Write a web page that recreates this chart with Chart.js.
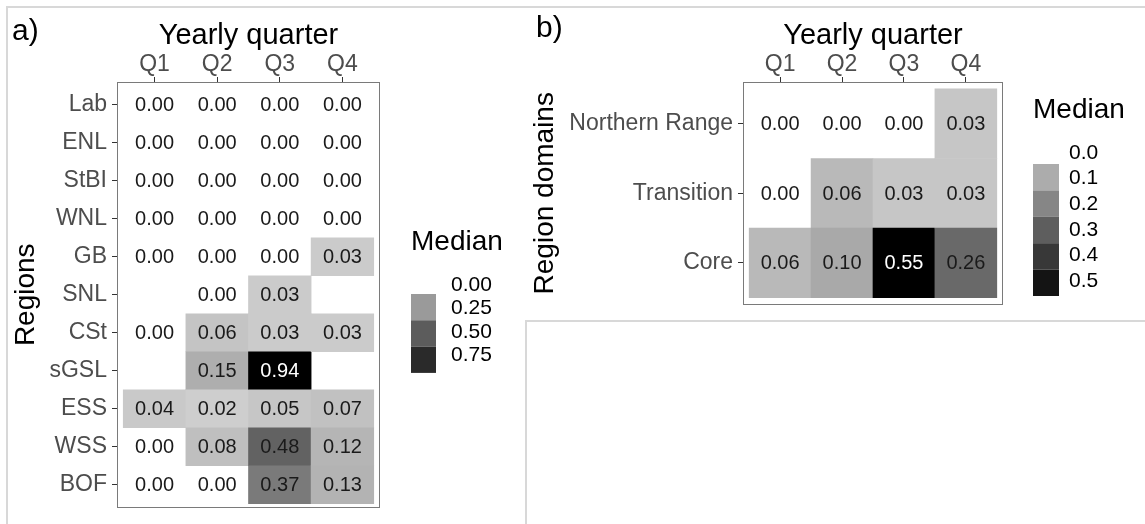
<!DOCTYPE html>
<html>
<head>
<meta charset="utf-8">
<script src="https://cdn.jsdelivr.net/npm/chart.js@4/dist/chart.umd.min.js"></script>
<style>
  html, body { margin: 0; padding: 0; background: #fff; }
  body { width: 1145px; height: 524px; position: relative; overflow: hidden; }
  canvas { position: absolute; top: 0; }
  #chartA { left: 0; }
  #chartB { left: 527px; }
  .rule { position: absolute; background: #d8d8d8; z-index: 2; }
</style>
</head>
<body>
<canvas id="chartA" width="525" height="524"></canvas>
<canvas id="chartB" width="618" height="321"></canvas>
<div class="rule" style="left:6px;top:6px;width:1139px;height:2px"></div>
<div class="rule" style="left:6px;top:6px;width:2px;height:518px"></div>
<div class="rule" style="left:525px;top:320px;width:2px;height:204px"></div>
<div class="rule" style="left:525px;top:320px;width:620px;height:2px"></div>
<script>
// ---- data ----
const quarters = ['Q1', 'Q2', 'Q3', 'Q4'];

// a) median per region and yearly quarter (null = no value)
const regions = ['Lab', 'ENL', 'StBI', 'WNL', 'GB', 'SNL', 'CSt', 'sGSL', 'ESS', 'WSS', 'BOF'];
const regionQ1 = [0.00, 0.00, 0.00, 0.00, 0.00, null, 0.00, null, 0.04, 0.00, 0.00];
const regionQ2 = [0.00, 0.00, 0.00, 0.00, 0.00, 0.00, 0.06, 0.15, 0.02, 0.08, 0.00];
const regionQ3 = [0.00, 0.00, 0.00, 0.00, 0.00, 0.03, 0.03, 0.94, 0.05, 0.48, 0.37];
const regionQ4 = [0.00, 0.00, 0.00, 0.00, 0.03, null, 0.03, null, 0.07, 0.12, 0.13];

// b) median per region domain and yearly quarter
const domains = ['Northern Range', 'Transition', 'Core'];
const domainQ1 = [0.00, 0.00, 0.06];
const domainQ2 = [0.00, 0.06, 0.10];
const domainQ3 = [0.00, 0.03, 0.55];
const domainQ4 = [0.03, 0.03, 0.26];

// colour key labels
const legendLabelsA = ['0.00', '0.25', '0.50', '0.75'];
const legendLabelsB = ['0.0', '0.1', '0.2', '0.3', '0.4', '0.5'];

// ---- styling ----
const FONT = "'Liberation Sans', Arial, Helvetica, sans-serif";
const legendFillA = ['#9a9a9a', '#5c5c5c', '#2a2a2a'];
const legendFillB = ['#acacac', '#868686', '#5e5e5e', '#383838', '#141414'];

// grey ramp interpolated in CIE L*: light grey at 0, black at the panel maximum
function lightnessToGrey(L) {
  const y = L > 8 ? Math.pow((L + 16) / 116, 3) : L / 903.3;
  const c = y <= 0.0031308 ? 12.92 * y : 1.055 * Math.pow(y, 1 / 2.4) - 0.055;
  return Math.round(255 * Math.min(1, Math.max(0, c)));
}
function tileGrey(v, vmax) {
  return lightnessToGrey(84.5 * (1 - v / vmax));
}
function tileFill(v, vmax) {
  if (v === 0) return 'rgba(255,255,255,0)';
  const g = tileGrey(v, vmax);
  return `rgb(${g},${g},${g})`;
}

// one floating bar per filled cell: x = quarter, y spans the row
function buildCells(rowNames, columns) {
  const cells = [];
  columns.forEach((col, qi) => {
    col.forEach((v, ri) => {
      if (v === null) return;
      cells.push({ x: qi + 1, y: [ri + 0.5, ri + 1.5], v });
    });
  });
  return cells;
}

const cellLabels = {
  id: 'cellLabels',
  afterDatasetsDraw(chart, args, opts) {
    const ctx = chart.ctx;
    ctx.save();
    ctx.font = `${opts.size}px ${FONT}`;
    ctx.textAlign = 'center';
    ctx.textBaseline = 'middle';
    chart.data.datasets.forEach((ds, di) => {
      chart.getDatasetMeta(di).data.forEach((bar, i) => {
        const cell = ds.data[i];
        const c = bar.getCenterPoint();
        ctx.fillStyle = (cell.v > 0 && tileGrey(cell.v, opts.vmax) < 50) ? '#ffffff' : '#1a1a1a';
        ctx.fillText(cell.v.toFixed(2), c.x, c.y + 1);
      });
    });
    ctx.restore();
  }
};

const panelFrame = {
  id: 'panelFrame',
  afterDatasetsDraw(chart) {
    const { ctx, chartArea: a } = chart;
    ctx.save();
    ctx.strokeStyle = '#7a7a7a';
    ctx.lineWidth = 1;
    ctx.strokeRect(Math.round(a.left) + 0.5, Math.round(a.top) + 0.5,
      Math.round(a.right - a.left) - 1, Math.round(a.bottom - a.top) - 1);
    ctx.restore();
  }
};

const stepKey = {
  id: 'stepKey',
  afterDraw(chart, args, o) {
    const ctx = chart.ctx;
    ctx.save();
    ctx.fillStyle = '#000';
    ctx.textAlign = 'left';
    ctx.textBaseline = 'middle';
    // panel tag
    ctx.font = `30px ${FONT}`;
    ctx.fillText(o.tag, o.tagX, o.tagY);
    // key title
    ctx.font = `28px ${FONT}`;
    ctx.fillText('Median', o.titleX, o.titleY);
    // key blocks
    o.fills.forEach((f, i) => {
      ctx.fillStyle = f;
      ctx.fillRect(o.barX, o.barY + i * o.blockH, o.barW, o.blockH);
    });
    // key labels
    ctx.fillStyle = '#000';
    ctx.font = `21px ${FONT}`;
    o.labels.forEach((t, i) => {
      ctx.fillText(t, o.labelX, o.labelY + i * o.labelStep);
    });
    ctx.restore();
  }
};

function makeChart(canvasId, rowNames, columns, vmax, area, pad, yTitle, yTitlePad, key) {
  const cells = buildCells(rowNames, columns);
  return new Chart(document.getElementById(canvasId), {
    type: 'bar',
    data: {
      datasets: [{
        data: cells,
        backgroundColor: (ctx) => ctx.raw ? tileFill(ctx.raw.v, vmax) : 'transparent',
        borderWidth: 0,
        barPercentage: 1,
        categoryPercentage: 1
      }]
    },
    options: {
      responsive: false,
      animation: false,
      devicePixelRatio: 1,
      events: [],
      layout: { padding: pad },
      scales: {
        x: {
          type: 'linear',
          position: 'top',
          offset: false,
          bounds: 'data',
          min: 0.4,
          max: quarters.length + 0.6,
          afterBuildTicks: (s) => { s.ticks = quarters.map((q, i) => ({ value: i + 1 })); },
          afterFit: (s) => { s.height = area.top - pad.top; },
          ticks: {
            callback: (v, i) => quarters[i],
            autoSkip: false,
            maxRotation: 0,
            padding: 1,
            color: '#4d4d4d',
            font: { family: FONT, size: 23, lineHeight: 1 }
          },
          grid: { display: true, offset: false, drawOnChartArea: false, drawTicks: true, tickLength: 5, tickColor: '#333', tickWidth: 1 },
          border: { display: false },
          title: {
            display: true,
            text: 'Yearly quarter',
            color: '#000',
            font: { family: FONT, size: 29, lineHeight: 1 },
            padding: { top: 11, bottom: 0 }
          }
        },
        y: {
          type: 'linear',
          reverse: true,
          offset: false,
          bounds: 'data',
          min: 0.4,
          max: rowNames.length + 0.6,
          afterBuildTicks: (s) => { s.ticks = rowNames.map((r, i) => ({ value: i + 1 })); },
          afterFit: (s) => { s.width = area.left - pad.left; },
          ticks: {
            callback: (v, i) => rowNames[i],
            autoSkip: false,
            padding: 5,
            color: '#4d4d4d',
            font: { family: FONT, size: 23, lineHeight: 1 }
          },
          grid: { display: true, offset: false, drawOnChartArea: false, drawTicks: true, tickLength: 5, tickColor: '#333', tickWidth: 1 },
          border: { display: false },
          title: {
            display: true,
            text: yTitle,
            color: '#000',
            font: { family: FONT, size: 28, lineHeight: 1 },
            padding: { top: yTitlePad, bottom: 0 }
          }
        }
      },
      plugins: {
        legend: { display: false },
        tooltip: { enabled: false },
        cellLabels: { size: 20, vmax },
        stepKey: key
      }
    },
    plugins: [panelFrame, cellLabels, stepKey]
  });
}

// a) regions
makeChart('chartA', regions, [regionQ1, regionQ2, regionQ3, regionQ4], 0.94,
  { left: 117, top: 82 },
  { left: 8, top: 10, right: 145, bottom: 7 },
  'Regions', 4,
  {
    tag: 'a)', tagX: 12, tagY: 32,
    titleX: 411, titleY: 242,
    fills: legendFillA, barX: 411, barY: 294, barW: 25, blockH: 26.3,
    labels: legendLabelsA, labelX: 451, labelY: 285, labelStep: 23.5
  });

// b) region domains
makeChart('chartB', domains, [domainQ1, domainQ2, domainQ3, domainQ4], 0.55,
  { left: 216, top: 82 },
  { left: 2, top: 10, right: 142, bottom: 11 },
  'Region domains', 2,
  {
    tag: 'b)', tagX: 9, tagY: 29,
    titleX: 506, titleY: 110,
    fills: legendFillB, barX: 506, barY: 164, barW: 26, blockH: 26.4,
    labels: legendLabelsB, labelX: 542, labelY: 153, labelStep: 25.6
  });
</script>
</body>
</html>
